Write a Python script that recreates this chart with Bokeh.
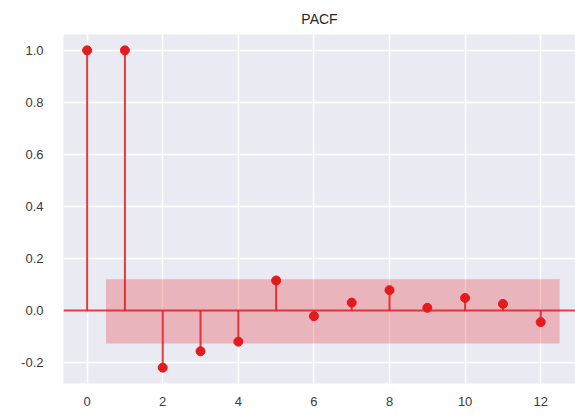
from bokeh.plotting import figure
from bokeh.models import ColumnDataSource, FixedTicker, Range1d, PrintfTickFormatter
from bokeh.embed import file_html
from bokeh.resources import INLINE

lags = [0, 1, 2, 3, 4, 5, 6, 7, 8, 9, 10, 11, 12]
pacf = [1.0, 1.0, -0.22, -0.157, -0.12, 0.115, -0.022, 0.03, 0.078, 0.01, 0.048, 0.025, -0.045]
band_x = [0.5, 12.5]
band_upper = [0.12, 0.12]
band_lower = [-0.127, -0.127]
x_ticks = [0, 2, 4, 6, 8, 10, 12]
y_ticks = [-0.2, 0.0, 0.2, 0.4, 0.6, 0.8, 1.0]

RED = "#e41a1c"

p = figure(width=575, height=417, output_backend="svg", toolbar_location=None,
           x_range=Range1d(-0.625, 12.92), y_range=Range1d(-0.281, 1.061),
           min_border_left=63, min_border_right=0, min_border_top=34, min_border_bottom=34,
           title="PACF")
p.background_fill_color = "#EAEAF2"
p.outline_line_color = None
p.border_fill_color = "white"

p.title.align = "center"
p.title.text_font = "Liberation Sans"
p.title.text_font_size = "14px"
p.title.text_font_style = "normal"
p.title.text_color = "#262626"
p.title.standoff = 16

for ax in (p.xaxis, p.yaxis):
    ax.axis_line_color = None
    ax.major_tick_line_color = None
    ax.minor_tick_line_color = None
    ax.major_label_text_font = "Liberation Sans"
    ax.major_label_text_font_size = "13px"
    ax.major_label_text_color = "#3a3a3a"
p.xaxis.ticker = FixedTicker(ticks=x_ticks)
p.yaxis.ticker = FixedTicker(ticks=y_ticks)
p.yaxis.formatter = PrintfTickFormatter(format="%.1f")
p.yaxis.major_label_standoff = 14
p.xaxis.major_label_standoff = 7

p.xgrid.ticker = FixedTicker(ticks=x_ticks)
p.ygrid.ticker = FixedTicker(ticks=y_ticks)
p.grid.grid_line_color = "white"
p.grid.grid_line_width = 1.5

band = ColumnDataSource(dict(x=band_x, lo=band_lower, hi=band_upper))
p.varea(x="x", y1="lo", y2="hi", source=band, fill_color="#e8383d", fill_alpha=0.3)

src = ColumnDataSource(dict(x=lags, y=pacf, zero=[0] * len(lags)))
p.segment(x0="x", y0="zero", x1="x", y1="y", source=src, line_color=RED, line_width=2, line_alpha=0.85)
p.line(x=[-0.625, 12.92], y=[0, 0], line_color=RED, line_width=2, line_alpha=0.85)
p.scatter(x="x", y="y", source=src, size=9, fill_color=RED, line_color=RED)

open("out.html", "w").write(file_html(p, INLINE))
